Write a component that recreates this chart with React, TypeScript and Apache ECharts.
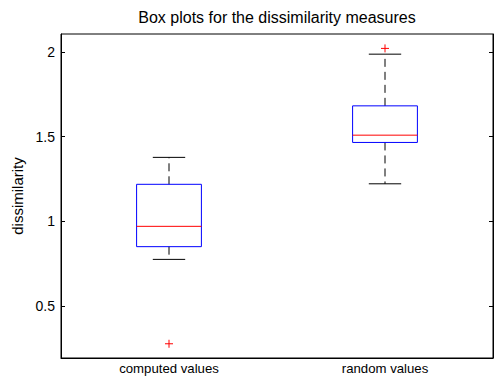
import React, { useEffect, useRef } from "react";
import * as echarts from "echarts";

const categories = ["computed values", "random values"];
const lowerWhisker = [0.775, 1.221];
const q1 = [0.85, 1.465];
const median = [0.97, 1.508];
const q3 = [1.218, 1.681];
const upperWhisker = [1.377, 1.986];
const outlierCategory = [0, 1];
const outlierValue = [0.277, 2.02];
const yTicks = [0.5, 1, 1.5, 2];

const FONT = "'Liberation Sans', Arial, Helvetica, sans-serif";

export default function App() {
  const ref = useRef<HTMLDivElement>(null);
  useEffect(() => {
    if (!ref.current) return;
    const chart = echarts.init(ref.current, undefined, { renderer: "svg" });
    const boxData = categories.map((_, i) => [
      i,
      lowerWhisker[i],
      q1[i],
      median[i],
      q3[i],
      upperWhisker[i],
    ]);
    const outData = outlierCategory.map((c, i) => [c, outlierValue[i]]);

    const renderBox = (params: any, api: any) => {
      const x = api.value(0);
      const band = api.size([1, 0])[0];
      const half = band * 0.15;
      const capHalf = band * 0.075;
      const pLow = api.coord([x, api.value(1)]);
      const pQ1 = api.coord([x, api.value(2)]);
      const pMed = api.coord([x, api.value(3)]);
      const pQ3 = api.coord([x, api.value(4)]);
      const pHigh = api.coord([x, api.value(5)]);
      const cx = pMed[0];
      const dashStyle = { stroke: "#000", lineWidth: 1, lineDash: [8, 5] };
      const solid = { stroke: "#000", lineWidth: 1 };
      return {
        type: "group",
        children: [
          { type: "line", shape: { x1: cx, y1: pQ3[1], x2: cx, y2: pHigh[1] }, style: dashStyle },
          { type: "line", shape: { x1: cx, y1: pQ1[1], x2: cx, y2: pLow[1] }, style: dashStyle },
          { type: "line", shape: { x1: cx - capHalf, y1: pHigh[1], x2: cx + capHalf, y2: pHigh[1] }, style: solid },
          { type: "line", shape: { x1: cx - capHalf, y1: pLow[1], x2: cx + capHalf, y2: pLow[1] }, style: solid },
          {
            type: "rect",
            shape: { x: cx - half, y: pQ3[1], width: half * 2, height: pQ1[1] - pQ3[1] },
            style: { fill: "none", stroke: "#0000ff", lineWidth: 1 },
          },
          { type: "line", shape: { x1: cx - half, y1: pMed[1], x2: cx + half, y2: pMed[1] }, style: { stroke: "#ff0000", lineWidth: 1 } },
        ],
      };
    };

    const renderOutlier = (params: any, api: any) => {
      const p = api.coord([api.value(0), api.value(1)]);
      const s = 4;
      const st = { stroke: "#ff0000", lineWidth: 1 };
      return {
        type: "group",
        children: [
          { type: "line", shape: { x1: p[0] - s, y1: p[1], x2: p[0] + s, y2: p[1] }, style: st },
          { type: "line", shape: { x1: p[0], y1: p[1] - s, x2: p[0], y2: p[1] + s }, style: st },
        ],
      };
    };

    const yMin = 0.193;
    const yMax = 2.105;

    chart.setOption({
      animation: false,
      backgroundColor: "#fff",
      textStyle: { fontFamily: FONT },
      graphic: [
        {
          type: "text",
          x: 277,
          y: 17.5,
          style: {
            text: "Box plots for the dissimilarity measures",
            font: `16px ${FONT}`,
            fill: "#000",
            align: "center",
            verticalAlign: "middle",
          },
        },
      ],
      grid: {
        left: 61,
        right: 3,
        top: 34,
        bottom: 18,
        show: true,
        borderColor: "#000",
        borderWidth: 1,
        backgroundColor: "transparent",
      },
      xAxis: {
        type: "category",
        data: categories,
        boundaryGap: true,
        axisLine: { show: true, lineStyle: { color: "#000", width: 1 } },
        axisTick: { show: false },
        splitLine: { show: false },
        axisLabel: { color: "#000", fontSize: 13.2, fontFamily: FONT, margin: 4 },
      },
      yAxis: [
        {
          type: "value",
          min: yMin,
          max: yMax,
          name: "dissimilarity",
          nameLocation: "middle",
          nameRotate: 90,
          nameGap: 36,
          nameTextStyle: { color: "#000", fontSize: 15, fontFamily: FONT },
          axisLine: { show: true, lineStyle: { color: "#000", width: 1 } },
          axisTick: {
            show: true,
            inside: true,
            length: 4,
            customValues: yTicks,
            lineStyle: { color: "#000" },
          },
          splitLine: { show: false },
          axisLabel: {
            color: "#000",
            fontSize: 14,
            fontFamily: FONT,
            margin: 6,
            customValues: yTicks,
            formatter: (v: number) => String(v),
          },
        },
        {
          type: "value",
          position: "right",
          min: yMin,
          max: yMax,
          axisLine: { show: true, lineStyle: { color: "#000", width: 1 } },
          axisTick: {
            show: true,
            inside: true,
            length: 4,
            customValues: yTicks,
            lineStyle: { color: "#000" },
          },
          splitLine: { show: false },
          axisLabel: { show: false },
        },
      ],
      series: [
        {
          type: "custom",
          renderItem: renderBox,
          data: boxData,
          encode: { x: 0, y: [1, 2, 3, 4, 5] },
          clip: false,
        },
        {
          type: "custom",
          renderItem: renderOutlier,
          data: outData,
          encode: { x: 0, y: 1 },
          clip: false,
        },
      ],
    });
    return () => chart.dispose();
  }, []);
  return (
    <div
      ref={ref}
      style={{ position: "fixed", left: 0, top: 0, width: 496, height: 376 }}
    />
  );
}
